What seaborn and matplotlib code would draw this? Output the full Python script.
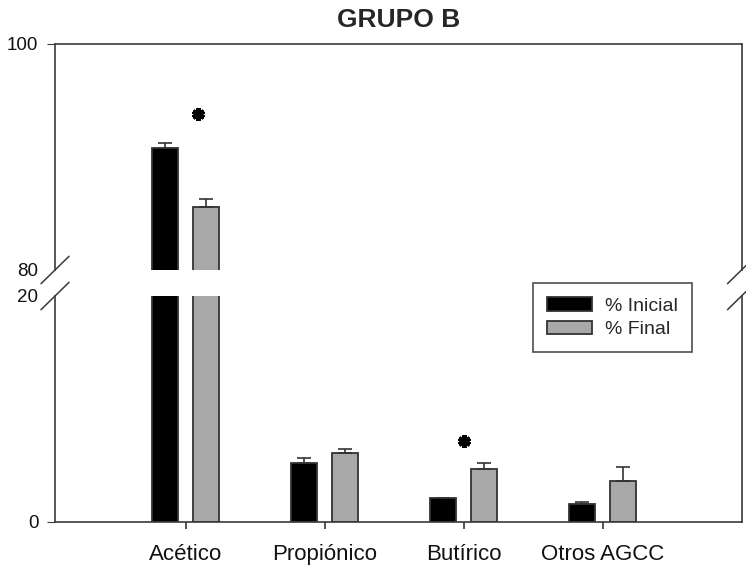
import numpy as np
import pandas as pd
import seaborn as sns
import matplotlib.pyplot as plt

# ==============================
# DADOS
# ==============================
acidos = ["Acético", "Propiónico", "Butírico", "Otros AGCC"]
inicial = [90.8, 5.2, 2.1, 1.55]
final = [85.6, 6.1, 4.7, 3.65]
err_inicial = [0.4, 0.5, 0.05, 0.2]
err_final = [0.7, 0.35, 0.55, 1.2]
medidas = ["% Inicial", "% Final"]

# asteriscos de significancia (x em unidades de categoria, y em %)
ast_x = [0.09, 2.0]
ast_y = [93.8, 7.2]

df = pd.DataFrame({
    "acido": acidos * 2,
    "valor": inicial + final,
    "medida": [medidas[0]] * 4 + [medidas[1]] * 4,
})
errs = [err_inicial, err_final]

# ==============================
# ESTILO
# ==============================
sns.set_style("ticks")
plt.rcParams["font.family"] = ["Liberation Sans", "DejaVu Sans"]
cor_eixo = "#3a3a3a"
plt.rcParams["axes.edgecolor"] = cor_eixo
plt.rcParams["axes.linewidth"] = 1.2
plt.rcParams["xtick.color"] = cor_eixo
plt.rcParams["ytick.color"] = cor_eixo
plt.rcParams["xtick.labelcolor"] = "#111111"
plt.rcParams["ytick.labelcolor"] = "#111111"

fig = plt.figure(figsize=(7.46, 5.66), dpi=100)
L, R = 55 / 746, 741.5 / 746
ax_top = fig.add_axes([L, 1 - 270 / 566, R - L, 226 / 566])
ax_bot = fig.add_axes([L, 1 - 522 / 566, R - L, 226 / 566], sharex=ax_top)

paleta = {medidas[0]: "#000000", medidas[1]: "#a8a8a8"}

for ax in (ax_top, ax_bot):
    sns.barplot(data=df, x="acido", y="valor", hue="medida", order=acidos,
                hue_order=medidas, palette=paleta, width=0.594, gap=0.37,
                errorbar=None, edgecolor="#333333", linewidth=1.3,
                saturation=1, legend=(ax is ax_bot), ax=ax)
    # barras de erro (somente para cima)
    for cont, e in zip(ax.containers, errs):
        xs = [p.get_x() + p.get_width() / 2 for p in cont]
        ys = [p.get_height() for p in cont]
        ax.errorbar(xs, ys, yerr=[np.zeros(len(e)), e], fmt="none",
                    ecolor="#333333", elinewidth=1.2, capsize=5, capthick=1.2)
    ax.set_xlabel("")
    ax.set_ylabel("")
    ax.set_xlim(-0.94, 4.0)

ax_top.set_ylim(80, 100)
ax_top.set_yticks([80, 100])
ax_bot.set_ylim(0, 20)
ax_bot.set_yticks([0, 20])

ax_top.spines["bottom"].set_visible(False)
ax_bot.spines["top"].set_visible(False)
ax_top.tick_params(axis="x", bottom=False, labelbottom=False)
ax_top.tick_params(axis="y", length=6, pad=6, labelsize=13.5)
ax_bot.tick_params(axis="y", length=6, pad=6, labelsize=13.5)
ax_bot.tick_params(axis="x", length=5, pad=11, labelsize=16, width=1.2)
# esconder marcas dos ticks onde ficam as quebras
ax_top.yaxis.get_major_ticks()[0].tick1line.set_visible(False)
ax_bot.yaxis.get_major_ticks()[1].tick1line.set_visible(False)

# ==============================
# MARCAS DE QUEBRA
# ==============================
dx, dy = 14 / 686, 13.7 / 226
kw = dict(color=cor_eixo, lw=1.1, clip_on=False)
for xc in (0, 1):
    ax_top.plot([xc - dx, xc + dx], [-dy, dy], transform=ax_top.transAxes, **kw)
    ax_bot.plot([xc - dx, xc + dx], [1 - dy, 1 + dy], transform=ax_bot.transAxes, **kw)

# asteriscos
ast_kw = dict(marker=(6, 2, 0), markersize=9, markeredgewidth=3.2,
              color="black", linestyle="none")
ax_top.plot([ast_x[0]], [ast_y[0]], **ast_kw)
ax_bot.plot([ast_x[1]], [ast_y[1]], **ast_kw)

# ==============================
# LEGENDA E TITULO
# ==============================
sns.move_legend(ax_bot, "upper left", bbox_to_anchor=(0.697, 1.057), title=None,
                frameon=True, fancybox=False, edgecolor="#222222",
                fontsize=14, handlelength=2.3, handleheight=0.7,
                handletextpad=0.64, borderpad=0.72, labelspacing=0.3,
                borderaxespad=0)
leg = ax_bot.get_legend()
leg.get_frame().set_linewidth(1.2)

ax_top.set_title("GRUPO B", fontsize=19, fontweight="bold", pad=12)

fig.savefig("out.png", dpi=100)
